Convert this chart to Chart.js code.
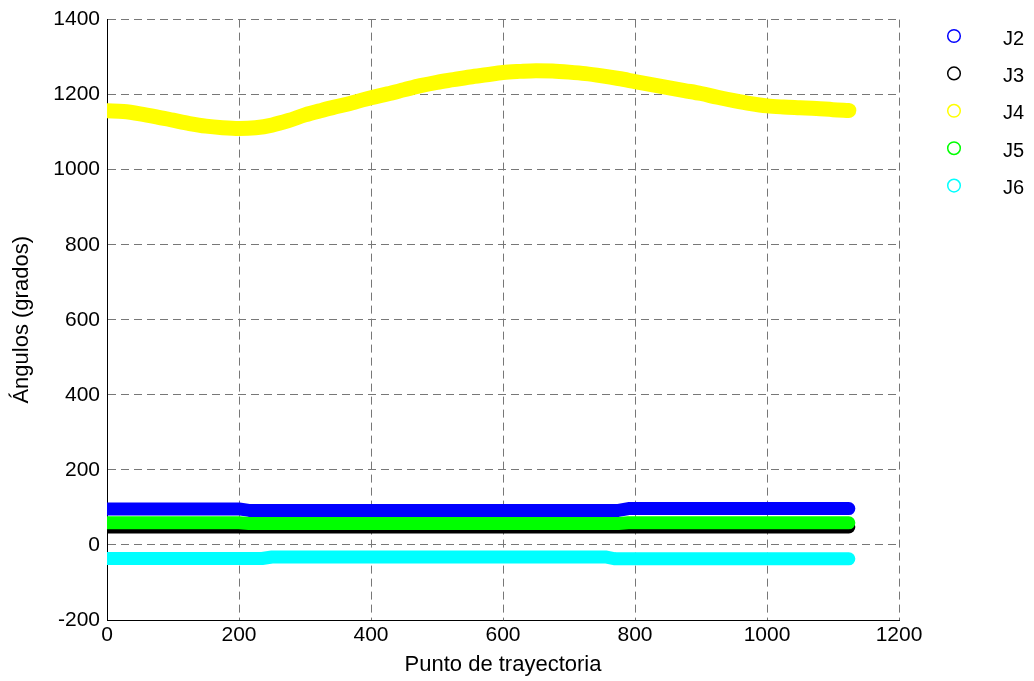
<!DOCTYPE html>
<html>
<head>
<meta charset="utf-8">
<title>Ángulos de las articulaciones</title>
<script src="https://cdn.jsdelivr.net/npm/chart.js@4.4.1/dist/chart.umd.min.js"></script>
<style>
    body { margin: 0; background: #fff; }
    #wrap { width: 1034px; height: 681px; }
</style>
</head>
<body>
<div id="wrap"><canvas id="jointChart" width="1034" height="681"></canvas></div>
<script>
var jointLabels = ["J2", "J3", "J4", "J5", "J6"];
var jointColors = ["#0000ff", "#000000", "#ffff00", "#00ff00", "#00ffff"];

// J4, read every 25 trajectory points
var j4Index = [0, 25, 50, 75, 100, 125, 150, 175, 200, 225, 250, 275, 300, 325, 350, 375,
               400, 425, 450, 475, 500, 525, 550, 575, 600, 625, 650, 675, 700, 725, 750, 775,
               800, 825, 850, 875, 900, 925, 950, 975, 1000, 1025, 1050, 1075, 1100, 1124];
var j4Angle = [1157, 1155, 1149, 1141, 1132, 1123, 1116, 1112, 1110, 1112, 1119, 1131, 1146, 1158, 1169, 1180,
               1192, 1202, 1213, 1224, 1233, 1240, 1247, 1253, 1259, 1262, 1264, 1263, 1260, 1256, 1250, 1243,
               1235, 1227, 1219, 1211, 1203, 1193, 1184, 1176, 1170, 1167, 1165, 1163, 1160, 1158];

// the other joints stay flat, with small steps
var j2Index = [0, 200, 215, 775, 790, 1124];
var j2Angle = [96, 96, 92, 92, 97, 97];
var j3Index = [0, 1124];
var j3Angle = [48, 48];
var j5Index = [0, 200, 215, 775, 790, 1124];
var j5Angle = [59, 59, 57, 57, 59, 59];
var j6Index = [0, 235, 250, 755, 770, 1124];
var j6Angle = [-36, -36, -32, -32, -37, -37];

var xTicks = [0, 200, 400, 600, 800, 1000, 1200];
var yTicks = [-200, 0, 200, 400, 600, 800, 1000, 1200, 1400];

var fontFamily = "'Liberation Sans', Arial, sans-serif";

function toPoints(idx, vals) {
    var pts = [];
    for (var i = 0; i < idx.length; i++) {
        pts.push({ x: idx[i], y: vals[i] });
    }
    return pts;
}

function makeDataset(n, idx, vals, smooth) {
    return {
        label: jointLabels[n],
        data: toPoints(idx, vals),
        borderColor: jointColors[n],
        backgroundColor: jointColors[n],
        borderWidth: smooth ? 15 : 13,
        borderCapStyle: "round",
        borderJoinStyle: "round",
        tension: smooth ? 0.4 : 0,
        cubicInterpolationMode: smooth ? "monotone" : "default",
        pointRadius: 0,
        fill: false,
        // later joints are drawn on top
        order: jointLabels.length - n
    };
}

// circles + names to the right of the plot
var jointLegend = {
    id: "jointLegend",
    afterDraw: function (chart) {
        var ctx = chart.ctx;
        var x0 = chart.chartArea.right;
        ctx.save();
        ctx.font = "20px " + fontFamily;
        ctx.textBaseline = "middle";
        ctx.textAlign = "left";
        for (var i = 0; i < jointLabels.length; i++) {
            var y = 36 + i * 37.4;
            ctx.beginPath();
            ctx.arc(x0 + 55, y, 6.3, 0, Math.PI * 2);
            ctx.lineWidth = 1.5;
            ctx.strokeStyle = jointColors[i];
            ctx.stroke();
            ctx.fillStyle = "#000";
            ctx.fillText(jointLabels[i], x0 + 104, y + 3);
        }
        ctx.restore();
    }
};

var gridStyle = {
    color: "#777777",
    lineWidth: 1,
    drawTicks: false
};

function plainNumber(value) {
    return String(value);
}

var myChart = new Chart(document.getElementById("jointChart"), {
    type: "line",
    data: {
        datasets: [
            makeDataset(0, j2Index, j2Angle, false),
            makeDataset(1, j3Index, j3Angle, false),
            makeDataset(2, j4Index, j4Angle, true),
            makeDataset(3, j5Index, j5Angle, false),
            makeDataset(4, j6Index, j6Angle, false)
        ]
    },
    options: {
        responsive: false,
        animation: false,
        devicePixelRatio: 1,
        layout: { padding: { top: 18, right: 135, left: 0, bottom: 0 } },
        plugins: {
            legend: { display: false },
            tooltip: { enabled: false }
        },
        scales: {
            x: {
                type: "linear",
                min: xTicks[0],
                max: xTicks[xTicks.length - 1],
                afterBuildTicks: function (scale) {
                    scale.ticks = xTicks.map(function (v) { return { value: v }; });
                },
                afterFit: function (scale) { scale.height = 61; },
                ticks: {
                    color: "#000",
                    padding: 3,
                    maxRotation: 0,
                    callback: plainNumber,
                    font: { family: fontFamily, size: 21 }
                },
                grid: gridStyle,
                border: { display: true, color: "#000", width: 1, dash: [8, 5] },
                title: {
                    display: true,
                    text: "Punto de trayectoria",
                    color: "#000",
                    padding: { top: 0, bottom: 3 },
                    font: { family: fontFamily, size: 22 }
                }
            },
            y: {
                min: yTicks[0],
                max: yTicks[yTicks.length - 1],
                afterBuildTicks: function (scale) {
                    scale.ticks = yTicks.map(function (v) { return { value: v }; });
                },
                afterFit: function (scale) { scale.width = 107; },
                ticks: {
                    color: "#000",
                    padding: 7,
                    callback: plainNumber,
                    font: { family: fontFamily, size: 21 }
                },
                grid: gridStyle,
                border: { display: true, color: "#000", width: 1, dash: [8, 5] },
                title: {
                    display: true,
                    text: "Ángulos (grados)",
                    color: "#000",
                    padding: { top: 9, bottom: 0 },
                    font: { family: fontFamily, size: 22 }
                }
            }
        }
    },
    plugins: [jointLegend]
});
</script>
</body>
</html>
